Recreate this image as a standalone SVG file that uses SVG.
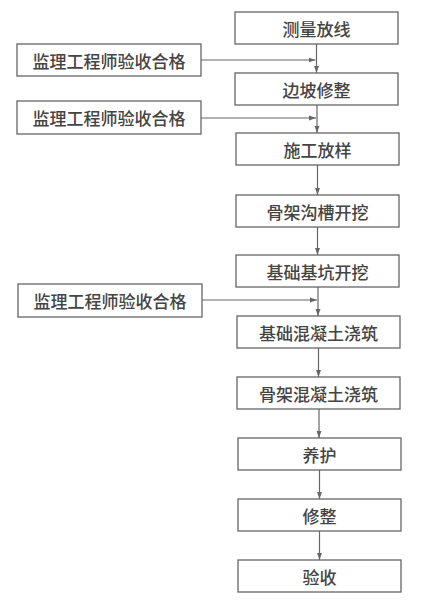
<svg xmlns="http://www.w3.org/2000/svg" width="439" height="600" viewBox="0 0 439 600">
<style>
.box{fill:#fff;stroke:#666;stroke-width:1.3}
.t{font-family:"Noto Sans CJK SC","Noto Sans CJK TC",sans-serif;font-size:17px;font-weight:500;fill:#444;text-anchor:middle;dominant-baseline:central}
.c{stroke:#666;stroke-width:1.2;fill:none;marker-end:url(#ah)}
</style>
<defs>
<marker id="ah" viewBox="0 0 10 10" refX="10" refY="5" markerWidth="7" markerHeight="7" markerUnits="userSpaceOnUse" orient="auto">
<path d="M0,1.5 L10,5 L0,8.5 Z" fill="#666"/>
</marker>
</defs>
<rect width="439" height="600" fill="#fff"/>
<g id="n1"><rect class="box" x="235" y="12" width="163" height="32"/><text class="t" x="316.5" y="28">测量放线</text></g>
<g id="n2"><rect class="box" x="235" y="73" width="163" height="32"/><text class="t" x="316.5" y="89">边坡修整</text></g>
<g id="n3"><rect class="box" x="236" y="133" width="163" height="32"/><text class="t" x="317.5" y="149">施工放样</text></g>
<g id="n4"><rect class="box" x="236" y="195" width="163" height="32"/><text class="t" x="317.5" y="211">骨架沟槽开挖</text></g>
<g id="n5"><rect class="box" x="236" y="255" width="163" height="32"/><text class="t" x="317.5" y="271">基础基坑开挖</text></g>
<g id="n6"><rect class="box" x="237" y="316" width="163" height="32"/><text class="t" x="318.5" y="332">基础混凝土浇筑</text></g>
<g id="n7"><rect class="box" x="237" y="377" width="163" height="32"/><text class="t" x="318.5" y="393">骨架混凝土浇筑</text></g>
<g id="n8"><rect class="box" x="238" y="438" width="163" height="32"/><text class="t" x="319.5" y="454">养护</text></g>
<g id="n9"><rect class="box" x="238" y="499" width="163" height="32"/><text class="t" x="319.5" y="515">修整</text></g>
<g id="n10"><rect class="box" x="238" y="560" width="163" height="32"/><text class="t" x="319.5" y="576">验收</text></g>
<g id="s1"><rect class="box" x="17" y="44" width="184" height="32"/><text class="t" x="109" y="60">监理工程师验收合格</text></g>
<g id="s2"><rect class="box" x="17" y="101" width="184" height="33"/><text class="t" x="109" y="117.5">监理工程师验收合格</text></g>
<g id="s3"><rect class="box" x="18" y="284" width="184" height="33"/><text class="t" x="110" y="300.5">监理工程师验收合格</text></g>
<g id="connectors">
<line class="c" x1="316.5" y1="44" x2="316.5" y2="73"/>
<line class="c" x1="317" y1="105" x2="317" y2="133"/>
<line class="c" x1="317.5" y1="165" x2="317.5" y2="195"/>
<line class="c" x1="317.5" y1="227" x2="317.5" y2="255"/>
<line class="c" x1="318" y1="287" x2="318" y2="316"/>
<line class="c" x1="318.5" y1="348" x2="318.5" y2="377"/>
<line class="c" x1="319" y1="409" x2="319" y2="438"/>
<line class="c" x1="319.5" y1="470" x2="319.5" y2="499"/>
<line class="c" x1="319.5" y1="531" x2="319.5" y2="560"/>
<line class="c" x1="201" y1="60" x2="315.5" y2="60"/>
<line class="c" x1="201" y1="118" x2="316" y2="118"/>
<line class="c" x1="202" y1="300" x2="317" y2="300"/>
</g>
</svg>
